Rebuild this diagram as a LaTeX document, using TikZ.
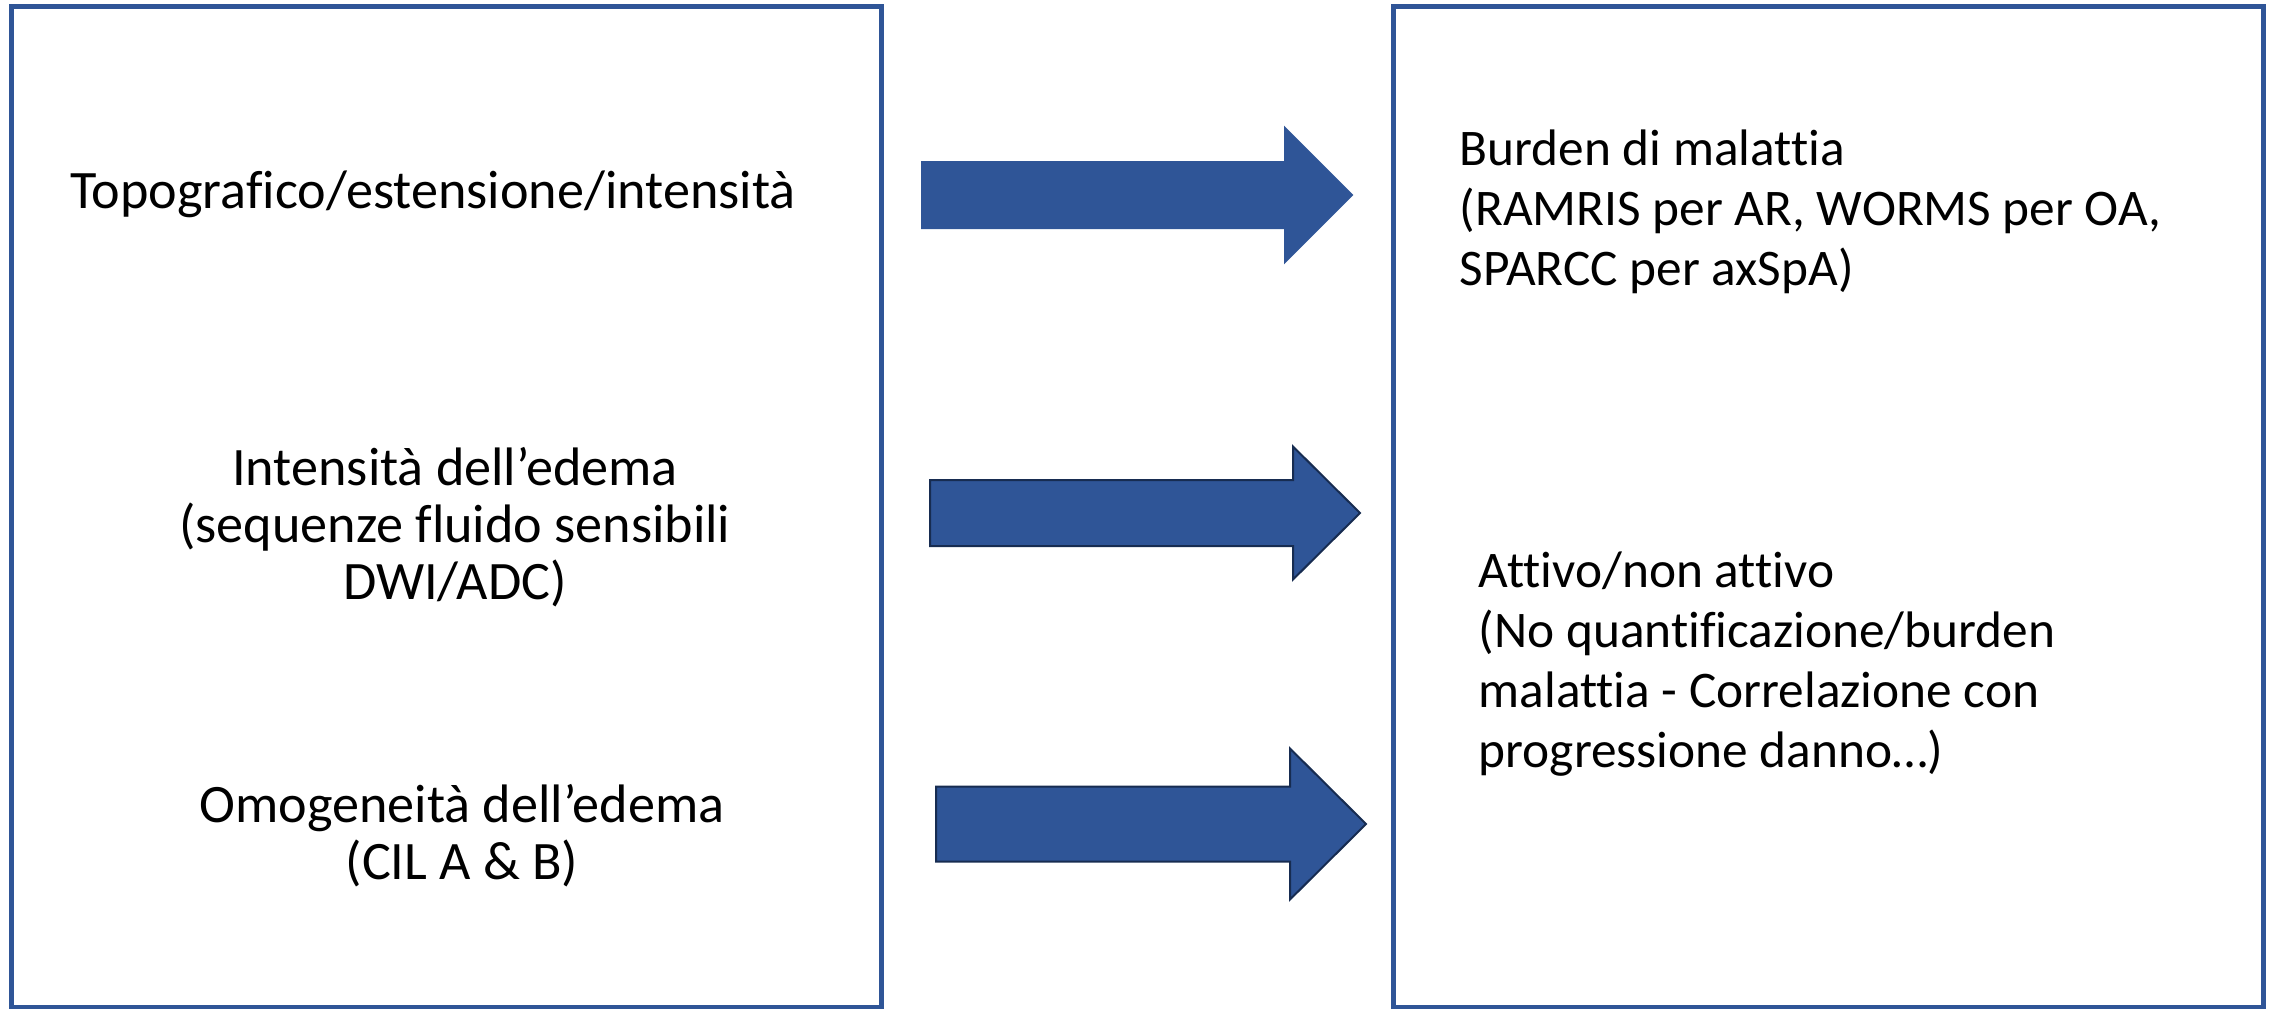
\documentclass[tikz,border=0pt]{standalone}
\usepackage{fontspec}
\setmainfont{Carlito}[Ligatures=NoCommon]
\usepackage{tikz}
\definecolor{boxblue}{HTML}{2F5597}
\definecolor{navy}{HTML}{172C51}

\begin{document}
\begin{tikzpicture}[
    x=0.01cm, y=-0.01cm,
    panel/.style={rectangle,draw=boxblue,line width=0.05cm,minimum width=8.69cm,minimum height=10cm,inner sep=0pt},
    lefttext/.style={align=center,inner sep=0pt,font=\fontsize{15.4pt}{16.2pt}\selectfont},
    righttext/.style={align=left,anchor=west,inner sep=0pt,font=\fontsize{14.6pt}{17pt}\selectfont},
    blockarrow/.style={fill=boxblue,line width=0.02cm},
]
\useasboundingbox (0,0) rectangle (2272,1008);

\node[panel] (findings) at (446.5,507) {};
\node[panel] (scores) at (1828.5,507) {};

\node[lefttext] (topo) at (433,194) {Topografico/estensione/intensità};
\node[lefttext] (intens) at (455,527) {Intensità dell’edema\\(sequenze fluido sensibili\\DWI/ADC)};
\node[lefttext] (omog) at (462,836) {Omogeneità dell’edema\\(CIL A \& B)};

\node[righttext] (burden) at (1459,212) {Burden di malattia\\(RAMRIS per AR, WORMS per OA,\\SPARCC per axSpA)};
\node[righttext] (attivo) at (1478,664) {Attivo/non attivo\\(No quantificazione/burden\\malattia - Correlazione con\\progressione danno…)};

% block arrows: shaft start / head base / tip / centre / half shaft / half head
\foreach \xs/\xb/\xt/\yc/\hs/\hh/\edge in {922/1285/1352/195/33/67/boxblue, 930/1293/1360/513/33/66.5/navy, 936/1290/1366/824/37.5/75.5/navy}
    \draw[blockarrow,draw=\edge] (\xs,\yc-\hs) -- (\xb,\yc-\hs) -- (\xb,\yc-\hh) -- (\xt,\yc)
        -- (\xb,\yc+\hh) -- (\xb,\yc+\hs) -- (\xs,\yc+\hs) -- cycle;
\end{tikzpicture}
\end{document}
